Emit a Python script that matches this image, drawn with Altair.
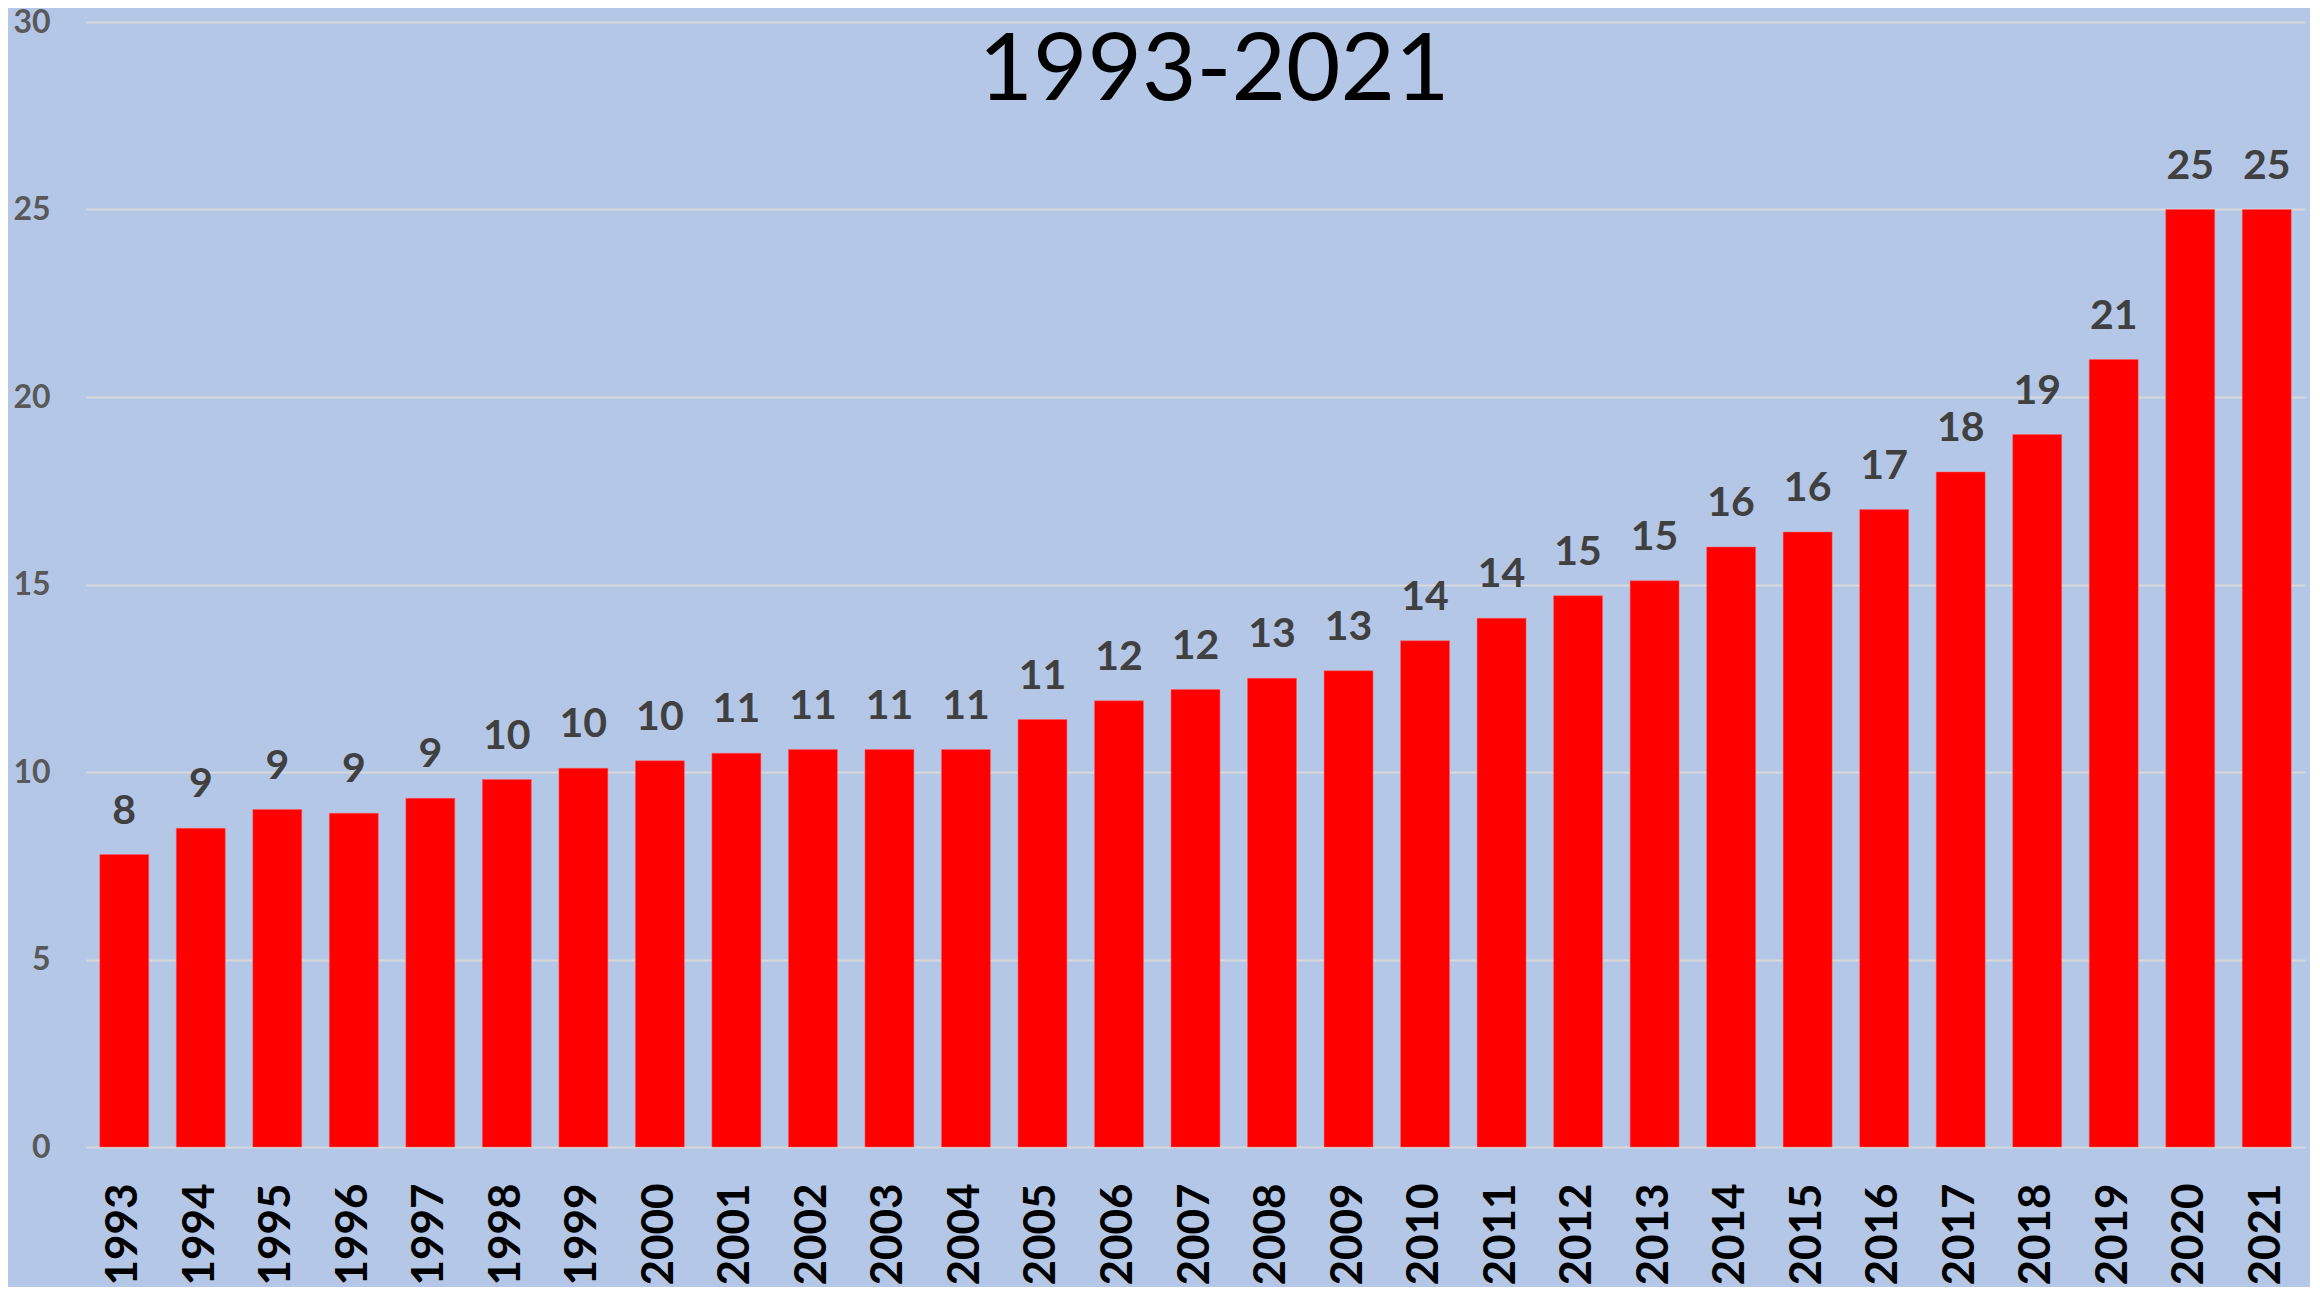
import altair as alt
import pandas as pd

title_text = ["1993-2021"]
years = [str(y) for y in range(1993, 2022)]
values = [7.8, 8.5, 9.0, 8.9, 9.3, 9.8, 10.1, 10.3, 10.5, 10.6, 10.6, 10.6,
          11.4, 11.9, 12.2, 12.5, 12.7, 13.5, 14.1, 14.7, 15.1, 16.0, 16.4,
          17.0, 18.0, 19.0, 21.0, 25.0, 25.0]
labels = ["8", "9", "9", "9", "9", "10", "10", "10", "11", "11", "11", "11",
          "11", "12", "12", "13", "13", "14", "14", "15", "15", "16", "16",
          "17", "18", "19", "21", "25", "25"]
y_ticks = [0, 5, 10, 15, 20, 25, 30]

df = pd.DataFrame({"year": years, "value": values, "label": labels})
tdf = pd.DataFrame({"t": title_text})

x_enc = alt.X(
    "year:N",
    sort=years,
    scale=alt.Scale(paddingInner=0.36, paddingOuter=0.18),
    axis=alt.Axis(
        title=None, labelAngle=-90, labelAlign="right", labelBaseline="middle",
        labelFont="Lato", labelFontSize=44, labelFontWeight="bold",
        labelColor="#000000", labelPadding=36, ticks=False, domain=False,
    ),
)
y_enc = alt.Y(
    "value:Q",
    scale=alt.Scale(domain=[0, 30], nice=False),
    axis=alt.Axis(
        title=None, values=y_ticks, labelFont="Lato", labelFontSize=32,
        labelFontWeight="bold", labelColor="#595959", labelPadding=36,
        ticks=False, domain=False, grid=True, gridColor="#d9d9d9",
        gridWidth=2,
    ),
)

bars = alt.Chart(df).mark_bar(color="#ff0000", stroke="#ff6060", strokeWidth=0.5).encode(
    x=x_enc, y=y_enc
)
text = alt.Chart(df).mark_text(
    font="Lato", fontSize=41, fontWeight="bold", color="#404040",
    baseline="bottom", dy=-22,
).encode(x=alt.X("year:N", sort=years), y="value:Q", text="label:N")

title = alt.Chart(tdf).mark_text(
    font="Lato", fontSize=94, fontWeight="normal", color="#000000",
    align="center", baseline="alphabetic",
).encode(x=alt.value(1128), y=alt.value(78), text="t:N")

chart = (
    alt.layer(bars, text, title)
    .properties(
        width=2219, height=1125,
        autosize=alt.AutoSizeParams(type="none"),
        padding={"left": 78, "top": 14, "right": 5, "bottom": 140},
        background="#b4c7e7",
    )
    .configure_view(stroke=None, fill="#b4c7e7")
)

chart.save("out.html", embed_options={"renderer": "svg", "actions": False})
